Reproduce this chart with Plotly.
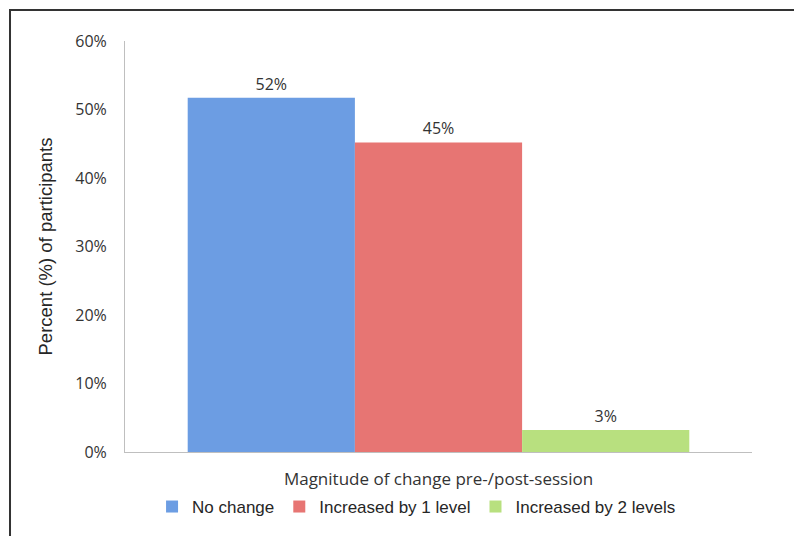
import plotly.graph_objects as go

category = ["Magnitude of change pre-/post-session"]
series_names = ["No change", "Increased by 1 level", "Increased by 2 levels"]
series_values = [51.7, 45.2, 3.2]
series_colors = ["#6c9de3", "#e77573", "#b8e07f"]
y_ticks = [0, 10, 20, 30, 40, 50, 60]
y_tick_labels = ["0%", "10%", "20%", "30%", "40%", "50%", "60%"]

fig = go.Figure()
for name, val, col in zip(series_names, series_values, series_colors):
    fig.add_trace(go.Bar(
        x=category, y=[val], name=name,
        marker=dict(color=col, line=dict(width=0)),
        texttemplate="%{y:.0f}%", textposition="outside",
        textfont=dict(family="Open Sans", size=16, color="#333333"),
        cliponaxis=False,
    ))

fig.update_layout(
    width=794, height=536,
    margin=dict(l=125, r=42, t=41, b=83),
    paper_bgcolor="white", plot_bgcolor="white",
    barmode="group", bargap=0.2, bargroupgap=0,
    showlegend=True,
    legend=dict(orientation="h", x=0.465, xanchor="center", y=-0.131, yanchor="middle",
                font=dict(family="Liberation Sans, Arial", size=17, color="#262626"),
                itemsizing="constant"),
    shapes=[dict(type="rect", xref="paper", yref="paper",
                 x0=-0.1834, x1=1.3, y0=-0.4, y1=1.0752,
                 line=dict(color="#333333", width=2), fillcolor="rgba(0,0,0,0)", layer="below")],
)
fig.update_yaxes(range=[0, 60], tickmode="array", tickvals=y_ticks, ticktext=y_tick_labels,
                 showline=True, linecolor="#bfbfbf", linewidth=1, showgrid=False, zeroline=False,
                 ticks="", ticklabelstandoff=14,
                 tickfont=dict(family="Open Sans", size=16, color="#333333"),
                 title=dict(text="Percent (%) of participants", standoff=17,
                            font=dict(family="Liberation Sans, Arial", size=18.5, color="#262626")))
fig.update_xaxes(showline=True, linecolor="#bfbfbf", linewidth=1, ticks="", showgrid=False,
                 ticklabelstandoff=12,
                 tickfont=dict(family="Open Sans", size=17, color="#333333"))

fig.write_html("out.html", config={"displayModeBar": False},
               post_script="document.body.style.margin='0';")
